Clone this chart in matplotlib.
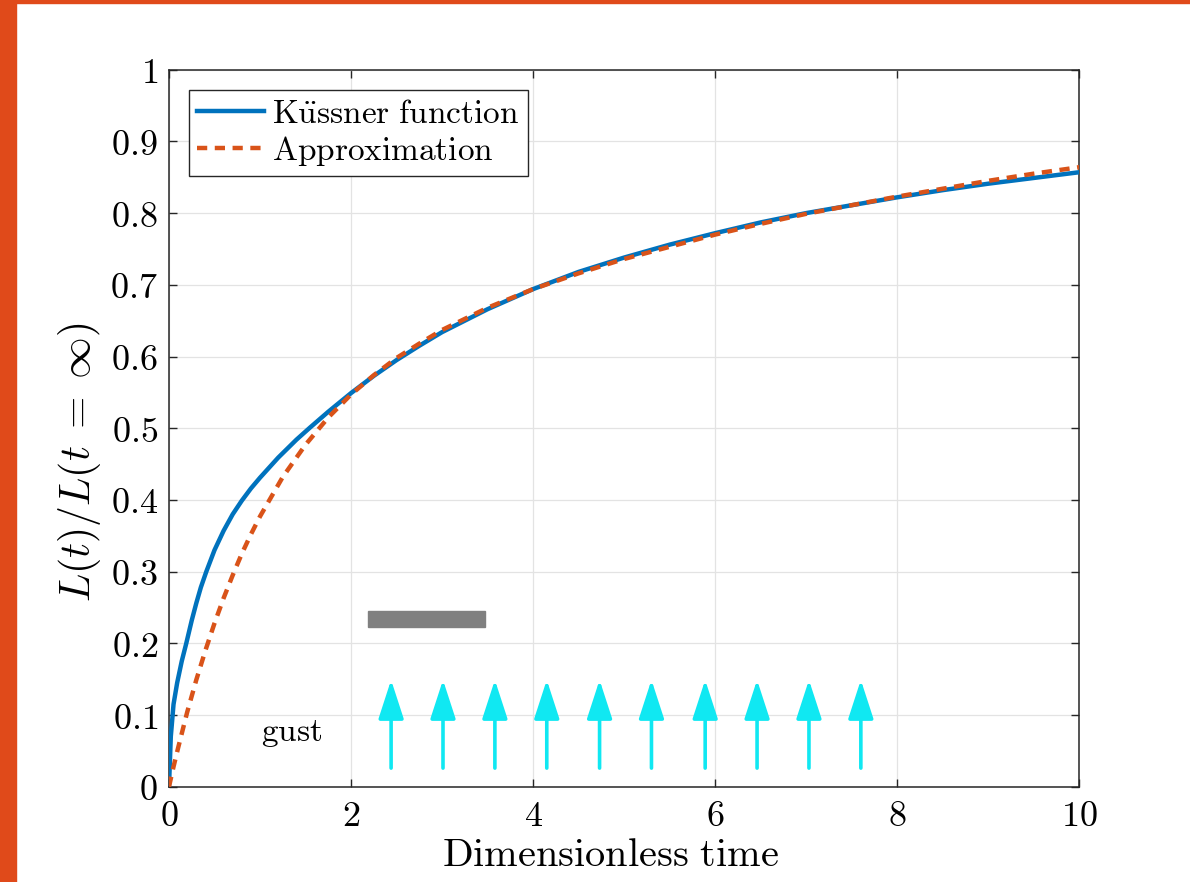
import matplotlib
matplotlib.use('Agg')

import numpy as np
import matplotlib.pyplot as plt
from matplotlib.patches import Rectangle

plt.rcParams['mathtext.fontset'] = 'cm'
plt.rcParams['font.family'] = 'DejaVu Serif'

# Curves #
t_kussner = [0, 0.02, 0.05, 0.09, 0.14, 0.19, 0.25, 0.3, 0.35, 0.41, 0.5, 0.6, 0.7, 0.8, 0.9, 1.0, 1.2, 1.4, 1.55, 1.75,
             2.0, 2.25, 2.5, 2.75, 3.0, 3.5, 4.0, 4.5, 5.0, 5.5, 6.0, 6.5, 7.0, 7.5, 8.0, 8.5, 9.0, 9.5, 10.0]
kussner = [0, 0.07, 0.115, 0.145, 0.175, 0.2, 0.232, 0.256, 0.278, 0.3, 0.33, 0.357, 0.380, 0.399, 0.416, 0.431, 0.459, 0.484, 0.501, 0.523,
           0.549, 0.573, 0.595, 0.615, 0.634, 0.666, 0.694, 0.718, 0.738, 0.756, 0.772, 0.787, 0.800, 0.811, 0.822, 0.832, 0.841, 0.849, 0.857]
t_approx = [0, 0.05, 0.1, 0.2, 0.3, 0.4, 0.5, 0.6, 0.7, 0.8, 0.9, 1.0, 1.25, 1.5, 1.75, 2.0, 2.25, 2.5, 2.75, 3.0, 3.5, 4.0, 4.5,
            5.0, 5.5, 6.0, 6.5, 7.0, 7.5, 8.0, 8.5, 9.0, 9.5, 10.0]
approx = [0, 0.028, 0.054, 0.104, 0.149, 0.190, 0.228, 0.263, 0.295, 0.325, 0.352, 0.377, 0.432, 0.477, 0.515, 0.547, 0.574, 0.598,
          0.618, 0.637, 0.668, 0.694, 0.716, 0.736, 0.753, 0.770, 0.785, 0.799, 0.811, 0.823, 0.834, 0.845, 0.855, 0.864]

# Gust sketch #
gust_x = [2.44, 3.01, 3.58, 4.15, 4.73, 5.30, 5.89, 6.46, 7.03, 7.60]
gust_y = [0.026, 0.149]  # tail, tip
bar_x = [2.19, 3.47]
bar_y = [0.223, 0.245]

x_ticks = [0, 2, 4, 6, 8, 10]
x_ticklabels = ['0', '2', '4', '6', '8', '10']
y_ticks = [0, 0.1, 0.2, 0.3, 0.4, 0.5, 0.6, 0.7, 0.8, 0.9, 1]
y_ticklabels = ['0', '0.1', '0.2', '0.3', '0.4', '0.5', '0.6', '0.7', '0.8', '0.9', '1']

figure = plt.figure(figsize=(11.9, 8.82), dpi=100)
axis = figure.add_axes([0.142, 0.108, 0.765, 0.813])

# Orange frame on the top and left edges #
figure.patches.append(Rectangle((0, 0), 16 / 1190, 1, transform=figure.transFigure, color='#E04A1A', zorder=-1))
figure.patches.append(Rectangle((0, 1 - 3 / 882), 1, 3 / 882, transform=figure.transFigure, color='#E04A1A', zorder=-1))

axis.grid(True, color='#e3e3e3', lw=0.9)
axis.set_axisbelow(True)
axis.set_xlim(0, 10)
axis.set_ylim(0, 1)
axis.set_xticks(x_ticks)
axis.set_xticklabels(['$' + s + '$' for s in x_ticklabels])
axis.set_yticks(y_ticks)
axis.set_yticklabels(['$' + s + '$' for s in y_ticklabels])
axis.tick_params(direction='in', which='both', top=True, right=True, labelsize=26, length=6, width=1.0, color='#262626')
axis.tick_params(axis='x', pad=9)
axis.tick_params(axis='y', pad=8)
for spine in axis.spines.values():
    spine.set_color('#262626')
    spine.set_linewidth(1.1)

axis.set_xlabel(r'$\mathrm{Dimensionless\ time}$', size=29)
axis.set_ylabel(r'$L(t)/L(t\;=\;\infty)$', size=30)
axis.xaxis.set_label_coords(0.485, -0.07)
axis.yaxis.set_label_coords(-0.072, 0.453)

axis.plot(t_kussner, kussner, color='#0072BD', lw=3.2, label=r'$\mathrm{K\ddot{u}ssner\ function}$', zorder=3)
axis.plot(t_approx, approx, color='#D95319', lw=3.2, dashes=(2.3, 1.7), label=r'$\mathrm{Approximation}$', zorder=4)

axis.add_patch(Rectangle((bar_x[0], bar_y[0]), bar_x[1] - bar_x[0], bar_y[1] - bar_y[0], color='#808080', zorder=2))
for x in gust_x:
    axis.annotate('', xy=(x, gust_y[1]), xytext=(x, gust_y[0]),
                  arrowprops=dict(arrowstyle='-|>,head_length=2.4,head_width=0.78', mutation_scale=10,
                                  color='#10E8F2', lw=2.6, shrinkA=0, shrinkB=0), zorder=2)
axis.text(1.35, 0.075, r'$\mathrm{gust}$', size=24, ha='center', va='center')

legend = axis.legend(loc='upper left', fontsize=24, fancybox=False, edgecolor='#262626', framealpha=1,
                     handlelength=2.0, handletextpad=0.25, borderaxespad=0.6, borderpad=0.25, labelspacing=0.12)
legend.get_frame().set_linewidth(1.0)

plt.savefig('out.png', dpi=100)
